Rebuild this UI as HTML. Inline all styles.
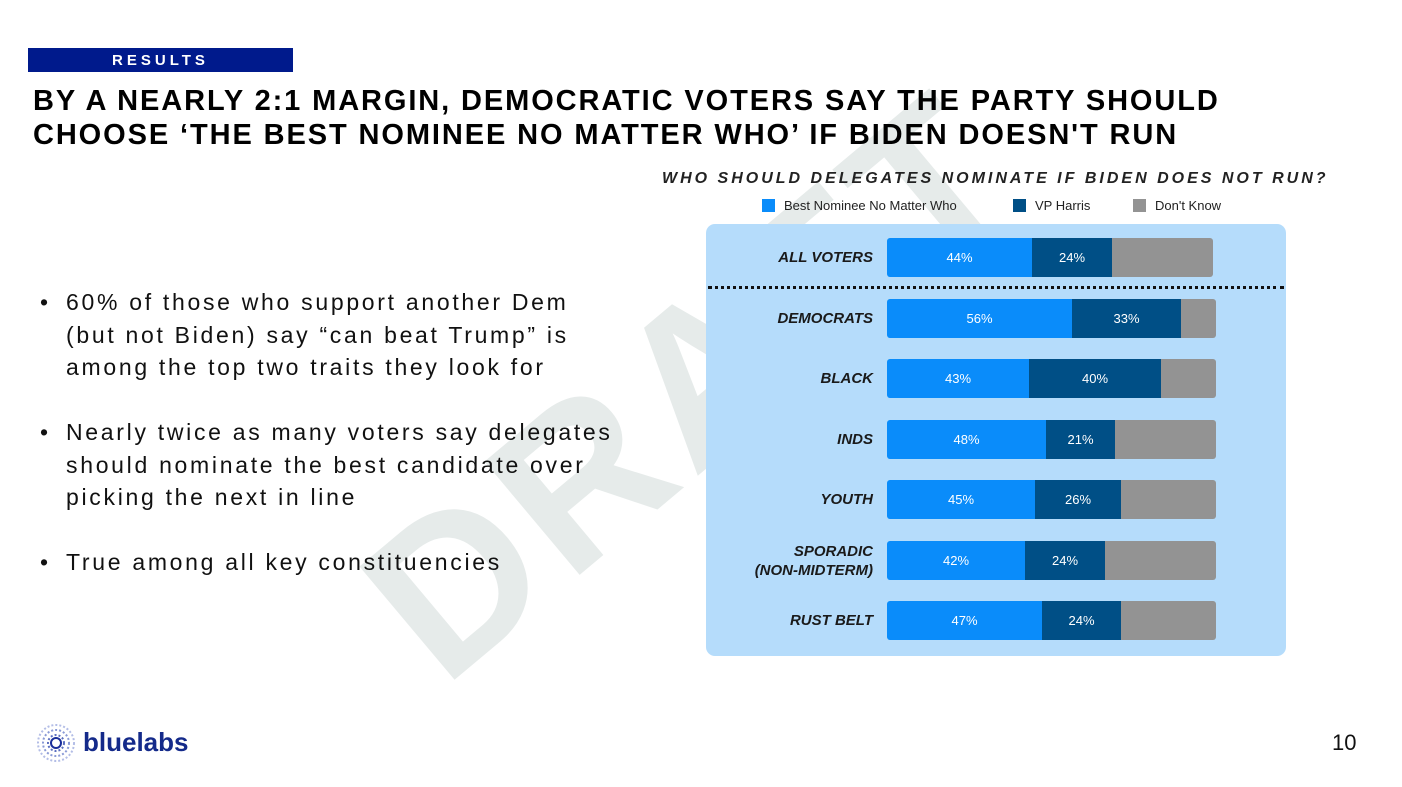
<!DOCTYPE html>
<html><head><meta charset="utf-8"><style>
body{margin:0;width:1402px;height:787px;background:#fff;position:relative;overflow:hidden;font-family:"Liberation Sans",sans-serif}
.abs{position:absolute}
.tag{left:28px;top:48px;width:265px;height:24px;background:#001a8c;color:#fff;font-weight:bold;font-size:15px;letter-spacing:4px;text-align:center;line-height:25px}
.title{left:33px;top:84px;font-weight:bold;font-size:29px;line-height:34px;color:#000;letter-spacing:1.9px;white-space:nowrap}
.wm{left:690px;top:385px;font-size:215px;line-height:1;font-weight:bold;color:#e6ebea;transform:translate(-50%,-50%) rotate(-40deg);white-space:nowrap;letter-spacing:8px}
.bul{left:40px;font-size:23px;color:#111;letter-spacing:2.7px;line-height:32.5px;white-space:nowrap}
.bul span{position:absolute;left:0}
.bul div{padding-left:26px}
.panel{left:706px;top:224px;width:580px;height:432px;background:#b5dcfb;border-radius:9px}
.ct{left:662px;top:170px;font-size:16px;font-weight:bold;font-style:italic;letter-spacing:3px;color:#222;white-space:nowrap}
.lg{top:198px;font-size:13px;color:#222}
.lg i{display:inline-block;width:13px;height:13px;vertical-align:-2px;margin-right:9px}
.lbl{width:160px;left:713px;text-align:right;font-weight:bold;font-style:italic;font-size:15px;color:#1a1a1a;line-height:19px}
.bar{left:887px;height:39px;display:flex;border-radius:3px;overflow:hidden;font-size:13px;color:#fff}
.bar div{display:flex;align-items:center;justify-content:center}
.a{background:#0a8cfa}.b{background:#004f86}.c{background:#939393}
</style></head><body>
<div class="abs wm">DRAFT</div>
<div class="abs tag">RESULTS</div>
<div class="abs title">BY A NEARLY 2:1 MARGIN, DEMOCRATIC VOTERS SAY THE PARTY SHOULD<br>CHOOSE ‘THE BEST NOMINEE NO MATTER WHO’ IF BIDEN DOESN'T RUN</div>
<div class="abs bul" style="top:286px"><span>•</span><div>60% of those who support another Dem<br>(but not Biden) say “can beat Trump” is<br>among the top two traits they look for</div></div>
<div class="abs bul" style="top:416px"><span>•</span><div>Nearly twice as many voters say delegates<br>should nominate the best candidate over<br>picking the next in line</div></div>
<div class="abs bul" style="top:546px"><span>•</span><div>True among all key constituencies</div></div>
<div class="abs ct">WHO SHOULD DELEGATES NOMINATE IF BIDEN DOES NOT RUN?</div>
<div class="abs lg" style="left:762px"><i class="a"></i>Best Nominee No Matter Who</div>
<div class="abs lg" style="left:1013px"><i class="b"></i>VP Harris</div>
<div class="abs lg" style="left:1133px"><i class="c"></i>Don't Know</div>
<div class="abs panel"></div>
<div class="abs" style="left:708px;top:286px;width:576px;border-top:3px dotted #111"></div>
<div class="abs lbl" style="top:248px">ALL VOTERS</div>
<div class="abs bar" style="top:238px;width:326px"><div class="a" style="width:145px">44%</div><div class="b" style="width:80px">24%</div><div class="c" style="flex:1"></div></div>
<div class="abs lbl" style="top:309px">DEMOCRATS</div>
<div class="abs bar" style="top:299px;width:329px"><div class="a" style="width:185px">56%</div><div class="b" style="width:109px">33%</div><div class="c" style="flex:1"></div></div>
<div class="abs lbl" style="top:369px">BLACK</div>
<div class="abs bar" style="top:359px;width:329px"><div class="a" style="width:142px">43%</div><div class="b" style="width:132px">40%</div><div class="c" style="flex:1"></div></div>
<div class="abs lbl" style="top:430px">INDS</div>
<div class="abs bar" style="top:420px;width:329px"><div class="a" style="width:159px">48%</div><div class="b" style="width:69px">21%</div><div class="c" style="flex:1"></div></div>
<div class="abs lbl" style="top:490px">YOUTH</div>
<div class="abs bar" style="top:480px;width:329px"><div class="a" style="width:148px">45%</div><div class="b" style="width:86px">26%</div><div class="c" style="flex:1"></div></div>
<div class="abs lbl" style="top:542px">SPORADIC<br>(NON-MIDTERM)</div>
<div class="abs bar" style="top:541px;width:329px"><div class="a" style="width:138px">42%</div><div class="b" style="width:80px">24%</div><div class="c" style="flex:1"></div></div>
<div class="abs lbl" style="top:611px">RUST BELT</div>
<div class="abs bar" style="top:601px;width:329px"><div class="a" style="width:155px">47%</div><div class="b" style="width:79px">24%</div><div class="c" style="flex:1"></div></div>
<svg class="abs" style="left:35px;top:722px" width="42" height="42"><g stroke="#5b6fc0" stroke-width="2" stroke-dasharray="2 2" fill="none"><circle cx="21" cy="21" r="8"/><circle cx="21" cy="21" r="13" stroke="#8a9ad6"/><circle cx="21" cy="21" r="18" stroke="#b3bde6"/></g><circle cx="21" cy="21" r="5" fill="none" stroke="#1a2e9a" stroke-width="2"/></svg>
<div class="abs" style="left:83px;top:727px;font-size:26px;font-weight:bold;color:#142a8a">bluelabs</div>
<div class="abs" style="left:1332px;top:730px;font-size:22px;color:#111">10</div>
</body></html>
